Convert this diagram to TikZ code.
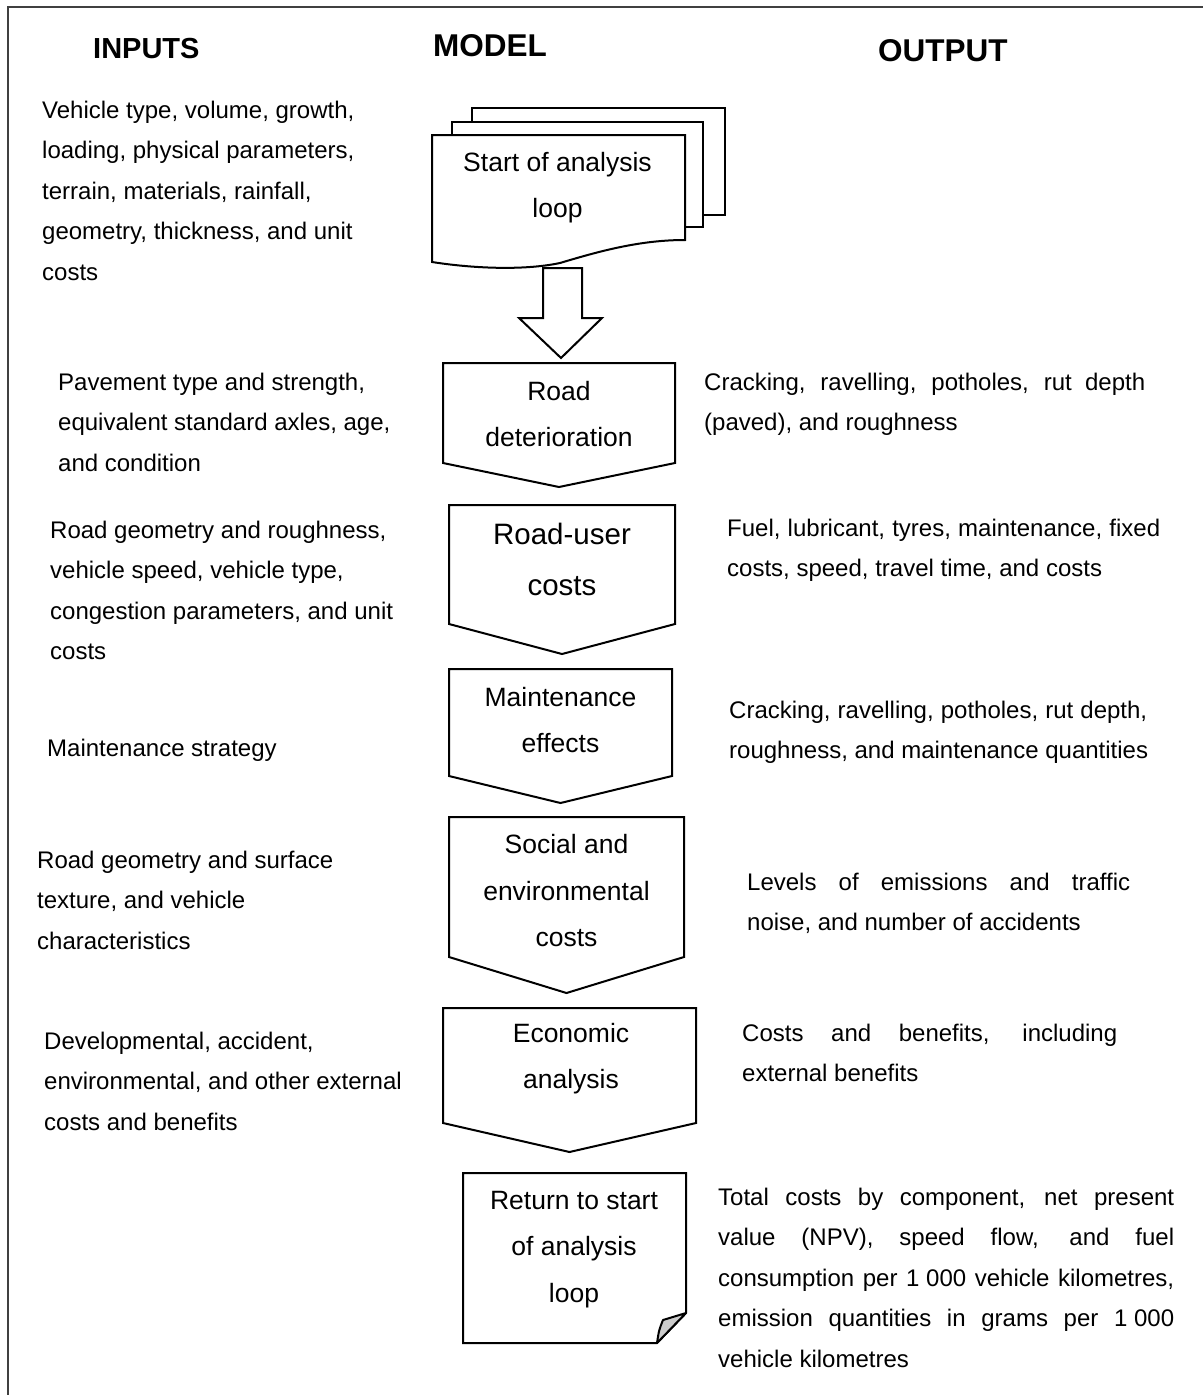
\documentclass[tikz,border=0pt]{standalone}
\usepackage{fontspec}
\setmainfont{Liberation Sans}
% a line stretched to a fixed width (justified line)
\newcommand\jl[2]{\makebox[#1pt][s]{#2}}
% chevron-bottomed process box: left, right, top, side bottom, tip y
\newcommand\chevbox[5]{%
  \draw[shp] (#1,#3) -- (#2,#3) -- (#2,#4) -- ({(#1+#2)/2},#5) -- (#1,#4) -- cycle;}
\begin{document}
\begin{tikzpicture}[x=1pt,y=-1pt,
  frameline/.style={line width=1.3pt, black!75},
  shp/.style={draw, line width=2pt, fill=white, line join=miter},
  % multi-line nodes are placed by the baseline of their last line
  body/.style={inner sep=0pt, anchor=base west, align=left,
    font=\fontsize{24}{40.6}\selectfont},
  mtext/.style={inner sep=0pt, anchor=base, align=center,
    font=\fontsize{26.5}{46.5}\selectfont},
  head/.style={inner sep=0pt, anchor=base west,
    font=\bfseries\fontsize{29}{34}\selectfont},
  bighead/.style={head, font=\bfseries\fontsize{31.5}{36}\selectfont}]
\useasboundingbox (0,0) rectangle (1203,1395);

% page frame (open at right and bottom)
\draw[frameline] (8,1395) -- (8,7) -- (1203,7);

% column headings
\node[head]    (hIn)    at (93,58)  {INPUTS};
\node[bighead] (hModel) at (433,56) {MODEL};
\node[bighead] (hOut)   at (878,61) {OUTPUT};

% start of loop: stacked documents
\draw[shp] (472,108) rectangle (725,215);
\draw[shp] (452,122) rectangle (703,227);
\draw[shp] (432,135) -- (685,135) -- (685,240)
  .. controls (640,240) and (600,251) .. (560,263)
  .. controls (522,271) and (470,268) .. (432,262) -- cycle;
\node[mtext] (start) at (557.5,217.5) {Start of analysis\\loop};

% block arrow into the first process
\coordinate (arrTop) at (562.5,268);
\coordinate (arrTip) at (561,358);
\draw[shp] (543,268) -- (582,268) -- (582,318) -- (602,318) -- (arrTip)
  -- (519,318) -- (543,318) -- cycle;

% model processes
\chevbox{443}{675}{363}{463}{487}
\node[mtext] (rd) at (559,446.5) {Road\\deterioration};

\chevbox{449}{675}{505}{624}{654}
\node[mtext, font=\fontsize{29.5}{51}\selectfont] (ruc) at (562,595) {Road-user\\costs};

\chevbox{449}{672}{669}{776}{803}
\node[mtext] (me) at (560.5,752.5) {Maintenance\\effects};

\chevbox{449}{684}{817}{957}{993}
\node[mtext] (sec) at (566.5,946.5) {Social and\\environmental\\costs};

\chevbox{443}{696}{1008}{1123}{1152}
\node[mtext] (ea) at (571,1088.5) {Economic\\analysis};

% return note with folded corner
\draw[shp] (463,1173) -- (686,1173) -- (686,1313) -- (657,1343) -- (463,1343) -- cycle;
\draw[line width=2pt, fill=black!20, line join=round]
  (686,1313) -- (663,1320) .. controls (659,1330) .. (657,1343) -- cycle;
\node[mtext] (ret) at (574,1302) {Return to start\\of analysis\\loop};

% inputs
\node[body] (in1) at (42,280.4) {Vehicle type, volume, growth,\\loading, physical parameters,\\terrain, materials, rainfall,\\geometry, thickness, and unit\\costs};
\node[body] (in2) at (58,471.2) {Pavement type and strength,\\equivalent standard axles, age,\\and condition};
\node[body] (in3) at (50,659.8) {Road geometry and roughness,\\vehicle speed, vehicle type,\\congestion parameters, and unit\\costs};
\node[body] (in4) at (47,756) {Maintenance strategy};
\node[body] (in5) at (37,949.2) {Road geometry and surface\\texture, and vehicle\\characteristics};
\node[body] (in6) at (44,1130.2) {Developmental, accident,\\environmental, and other external\\costs and benefits};

% outputs
\node[body] (out1) at (704,430.6) {\jl{441}{Cracking, ravelling, potholes, rut depth}\\(paved), and roughness};
\node[body] (out2) at (727,576.6) {\jl{433}{Fuel, lubricant, tyres, maintenance, fixed}\\costs, speed, travel time, and costs};
\node[body] (out3) at (729,758.6) {\jl{418}{Cracking, ravelling, potholes, rut depth,}\\roughness, and maintenance quantities};
\node[body] (out4) at (747,930.6) {\jl{383}{Levels of emissions and traffic}\\noise, and number of accidents};
\node[body] (out5) at (742,1081.6) {\jl{375}{Costs and benefits, including}\\external benefits};
\node[body] (out6) at (718,1367.4) {\jl{456}{Total costs by component, net present}\\\jl{456}{value (NPV), speed flow, and fuel}\\\jl{456}{consumption per \mbox{1 000} vehicle kilometres,}\\\jl{456}{emission quantities in grams per \mbox{1 000}}\\vehicle kilometres};
\end{tikzpicture}
\end{document}
